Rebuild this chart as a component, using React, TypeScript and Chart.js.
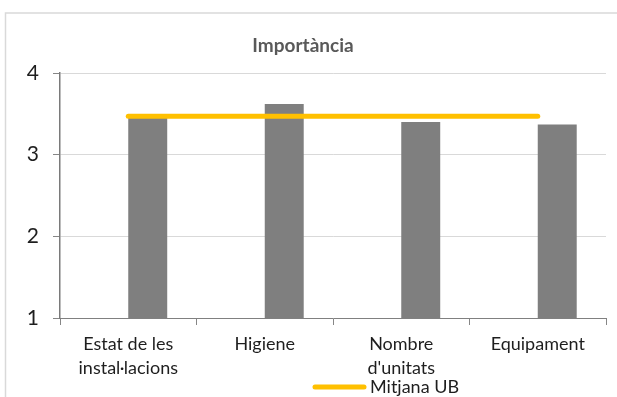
import React, { useEffect, useRef } from "react";
import { Chart, registerables } from "chart.js";

Chart.register(...registerables);

const categories: (string | string[])[] = [
  ["Estat de les", "instal·lacions"],
  "Higiene",
  ["Nombre", "d'unitats"],
  "Equipament",
];
const importancia = [3.46, 3.62, 3.4, 3.37];
const mitjanaUB = [3.47, 3.47, 3.47, 3.47];
const yMin = 1;
const yMax = 4;
const titleText = "Importància";
const legendLabel = "Mitjana UB";

const FONT = "Lato, 'Liberation Sans', sans-serif";

export default function App() {
  const ref = useRef<HTMLCanvasElement | null>(null);

  useEffect(() => {
    if (!ref.current) return;
    const decor = {
      id: "decor",
      beforeDraw(chart: any) {
        const ctx = chart.ctx;
        ctx.save();
        ctx.fillStyle = "#ffffff";
        ctx.fillRect(0, 0, chart.width, chart.height);
        ctx.strokeStyle = "#d9d9d9";
        ctx.lineWidth = 1.5;
        ctx.beginPath();
        ctx.moveTo(5.5, chart.height + 2);
        ctx.lineTo(5.5, 13);
        ctx.lineTo(chart.width + 2, 13);
        ctx.stroke();
        ctx.restore();
      },
      afterDraw(chart: any) {
        const ctx = chart.ctx;
        ctx.save();
        // title
        ctx.fillStyle = "#595959";
        ctx.font = `bold 19px ${FONT}`;
        ctx.textAlign = "center";
        ctx.textBaseline = "alphabetic";
        ctx.fillText(titleText, 303, 52);
        // legend
        ctx.strokeStyle = "#FFC000";
        ctx.lineWidth = 5;
        ctx.lineCap = "round";
        ctx.beginPath();
        ctx.moveTo(315, 387);
        ctx.lineTo(364, 387);
        ctx.stroke();
        ctx.fillStyle = "#1e1e1e";
        ctx.font = `18px ${FONT}`;
        ctx.textAlign = "left";
        ctx.textBaseline = "middle";
        ctx.fillText(legendLabel, 370, 387);
        ctx.restore();
      },
    };

    const chart = new Chart(ref.current, {
      type: "bar",
      data: {
        labels: categories as any,
        datasets: [
          {
            type: "line",
            label: legendLabel,
            data: mitjanaUB,
            borderColor: "#FFC000",
            backgroundColor: "#FFC000",
            borderWidth: 5,
            borderCapStyle: "round",
            pointRadius: 0,
            order: 0,
          } as any,
          {
            type: "bar",
            label: "",
            data: [null, null, null, null],
            backgroundColor: "rgba(0,0,0,0)",
            order: 2,
          },
          {
            type: "bar",
            label: titleText,
            data: importancia,
            backgroundColor: "#7F7F7F",
            borderWidth: 0,
            order: 2,
          },
        ],
      },
      options: {
        animation: false,
        responsive: false,
        maintainAspectRatio: false,
        devicePixelRatio: 1,
        layout: { padding: { top: 73, right: 11, left: 0, bottom: 0 } },
        datasets: {
          bar: { categoryPercentage: 0.571, barPercentage: 1 },
        },
        plugins: {
          legend: { display: false },
          title: { display: false },
          tooltip: { enabled: false },
        },
        scales: {
          x: {
            offset: true,
            grid: {
              offset: true,
              drawOnChartArea: false,
              drawTicks: true,
              tickLength: 7,
              tickColor: "#868686",
              color: "#868686",
            },
            border: { color: "#808080", width: 1 },
            ticks: {
              color: "#1e1e1e",
              font: { family: FONT, size: 18, lineHeight: 1.33 },
              padding: 7,
              maxRotation: 0,
              autoSkip: false,
            },
            afterFit(scale: any) {
              scale.height = 79;
            },
          },
          y: {
            min: yMin,
            max: yMax,
            ticks: {
              stepSize: 1,
              color: "#1e1e1e",
              font: { family: FONT, size: 21 },
              padding: 14,
            },
            grid: {
              color: "#d9d9d9",
              tickLength: 7,
              tickColor: "#868686",
            },
            border: { color: "#7a7a7a", width: 1.5 },
            afterFit(scale: any) {
              scale.width = 60;
            },
          },
        },
      },
      plugins: [decor],
    } as any);
    return () => chart.destroy();
  }, []);

  return (
    <div style={{ position: "fixed", left: 0, top: 0, width: 617, height: 397, background: "#fff" }}>
      <canvas ref={ref} width={617} height={397} style={{ display: "block", width: 617, height: 397 }} />
    </div>
  );
}
